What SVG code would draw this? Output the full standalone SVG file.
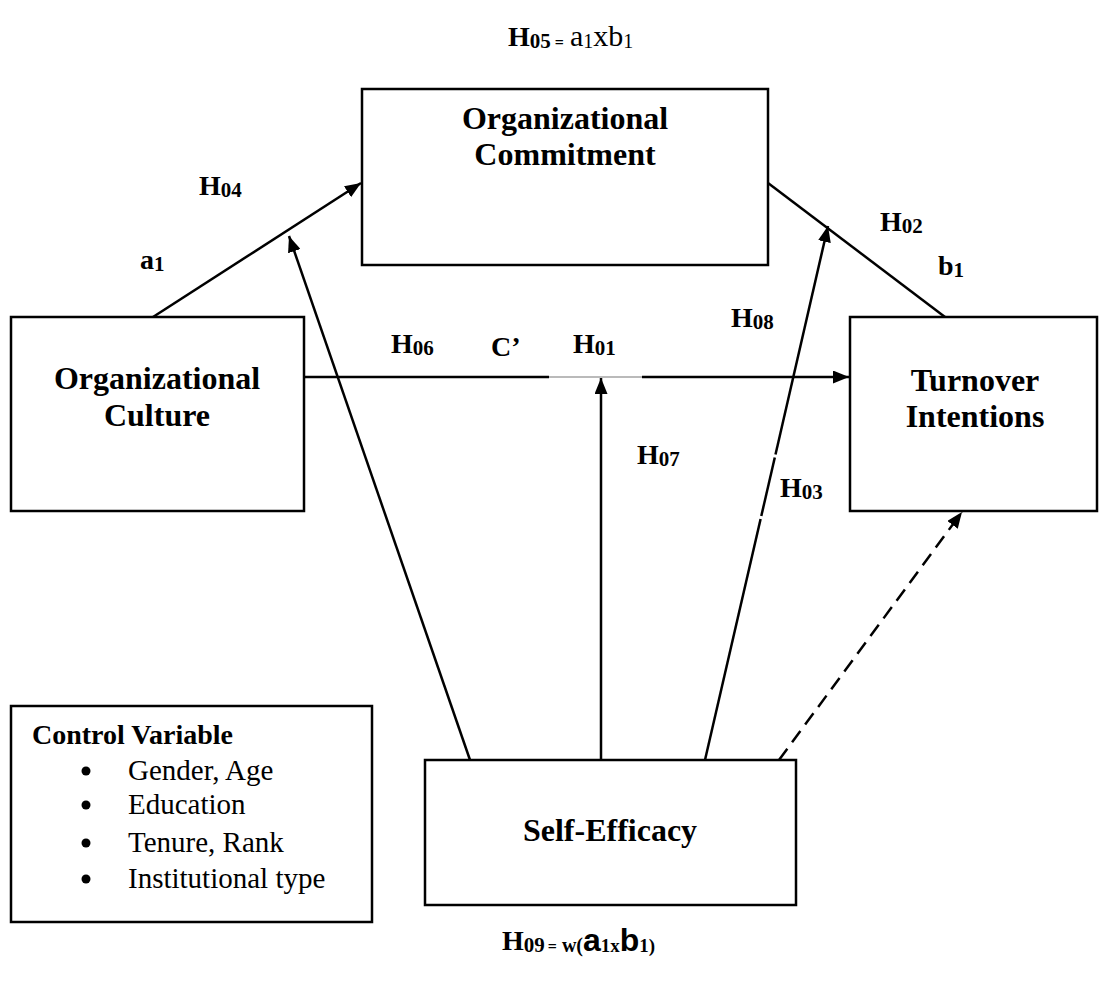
<svg xmlns="http://www.w3.org/2000/svg" width="1100" height="981" viewBox="0 0 1100 981">
  <defs>
    <style>
      .box { fill: #ffffff; stroke: #000000; stroke-width: 2.5; }
      .edge { fill: none; stroke: #000000; stroke-width: 2.5; }
      .thin { fill: none; stroke: #777777; stroke-width: 1.2; }
      .dash { stroke-dasharray: 14 8; }
      .node { font-family: "Liberation Serif", "Times New Roman", serif; font-weight: bold; font-size: 32px; fill: #000; text-anchor: middle; }
      .lbl { font-family: "Liberation Serif", "Times New Roman", serif; font-weight: bold; font-size: 28px; fill: #000; }
      .sub { font-size: 21px; }
      .reg { font-family: "Liberation Serif", "Times New Roman", serif; font-size: 29px; fill: #000; }
    </style>
    <marker id="arrow" markerUnits="userSpaceOnUse" markerWidth="17" markerHeight="13" refX="16" refY="6.5" orient="auto">
      <path d="M0,0 L16,6.5 L0,13 z" fill="#000"/>
    </marker>
  </defs>

  <!-- equation above the model -->
  <text x="508" y="46" class="lbl">H<tspan class="sub" dy="2">05</tspan><tspan font-size="16" dx="4">=</tspan><tspan font-weight="normal" font-size="30" dx="6" dy="-2">a</tspan><tspan font-weight="normal" font-size="20" dy="2">1</tspan><tspan font-weight="normal" font-size="30" dy="-2">xb</tspan><tspan font-weight="normal" font-size="20" dy="2">1</tspan></text>

  <!-- nodes -->
  <g id="org-commitment">
    <rect class="box" x="362" y="89" width="406" height="176"/>
    <text class="node" x="565" y="129">Organizational</text>
    <text class="node" x="565" y="165">Commitment</text>
  </g>

  <g id="org-culture">
    <rect class="box" x="11" y="317" width="293" height="194"/>
    <text class="node" x="157" y="389">Organizational</text>
    <text class="node" x="157" y="426">Culture</text>
  </g>

  <g id="turnover">
    <rect class="box" x="850" y="317" width="247" height="194"/>
    <text class="node" x="975" y="391">Turnover</text>
    <text class="node" x="975" y="427">Intentions</text>
  </g>

  <g id="self-efficacy">
    <rect class="box" x="425" y="760" width="371" height="145"/>
    <text class="node" x="610" y="841" font-size="26">Self-Efficacy</text>
  </g>

  <g id="control-variable">
    <rect class="box" x="11" y="706" width="361" height="216"/>
    <text class="lbl" x="32" y="744" font-size="29">Control Variable</text>
    <circle cx="86" cy="771" r="4.5"/>
    <text class="reg" x="128" y="780">Gender, Age</text>
    <circle cx="86" cy="805" r="4.5"/>
    <text class="reg" x="128" y="814">Education</text>
    <circle cx="86" cy="843" r="4.5"/>
    <text class="reg" x="128" y="852">Tenure, Rank</text>
    <circle cx="86" cy="879" r="4.5"/>
    <text class="reg" x="128" y="888">Institutional type</text>
  </g>

  <!-- connectors -->
  <g id="connectors">
    <!-- culture -> commitment (a1) -->
    <line class="edge" x1="153" y1="317" x2="361" y2="183" marker-end="url(#arrow)"/>
    <!-- commitment -> turnover (b1) -->
    <line class="edge" x1="768" y1="183" x2="945" y2="317"/>
    <!-- culture -> turnover (c') -->
    <line class="edge" x1="304" y1="377" x2="549" y2="377"/>
    <line class="thin" x1="549" y1="377" x2="642" y2="377"/>
    <line class="edge" x1="642" y1="377" x2="849" y2="377" marker-end="url(#arrow)"/>
    <!-- self-efficacy moderating paths -->
    <line class="edge" x1="470" y1="760" x2="289" y2="236" marker-end="url(#arrow)"/>
    <line class="edge" x1="601" y1="760" x2="601" y2="378" marker-end="url(#arrow)"/>
    <line class="edge" x1="705" y1="760" x2="760.6" y2="519"/>
    <line class="edge" x1="761.3" y1="516" x2="774.8" y2="457.5"/>
    <line class="edge" x1="775.5" y1="454.5" x2="828" y2="226" marker-end="url(#arrow)"/>
    <line class="edge dash" x1="779" y1="760" x2="962" y2="512" marker-end="url(#arrow)"/>
  </g>

  <!-- path labels -->
  <g id="labels">
    <text class="lbl" x="199" y="195">H<tspan class="sub" dy="2">04</tspan></text>
    <text class="lbl" x="140" y="269">a<tspan class="sub" dy="2">1</tspan></text>
    <text class="lbl" x="880" y="231">H<tspan class="sub" dy="2">02</tspan></text>
    <text class="lbl" x="938" y="275">b<tspan class="sub" dy="2">1</tspan></text>
    <text class="lbl" x="731" y="327">H<tspan class="sub" dy="2">08</tspan></text>
    <text class="lbl" x="391" y="353">H<tspan class="sub" dy="2">06</tspan></text>
    <text class="lbl" x="491" y="356">C’</text>
    <text class="lbl" x="573" y="353">H<tspan class="sub" dy="2">01</tspan></text>
    <text class="lbl" x="637" y="464">H<tspan class="sub" dy="2">07</tspan></text>
    <text class="lbl" x="780" y="497">H<tspan class="sub" dy="2">03</tspan></text>
  </g>

  <!-- equation below the model -->
  <text x="502" y="950" class="lbl">H<tspan class="sub" dy="2">09</tspan><tspan font-size="16" dx="3">=</tspan><tspan font-size="20" dx="5">w(</tspan><tspan font-family="Liberation Sans, Arial, sans-serif" font-size="32" dy="-1">a</tspan><tspan font-size="19" dy="1">1x</tspan><tspan font-family="Liberation Sans, Arial, sans-serif" font-size="32" dy="-1">b</tspan><tspan font-size="19" dy="1">1)</tspan></text>
</svg>
